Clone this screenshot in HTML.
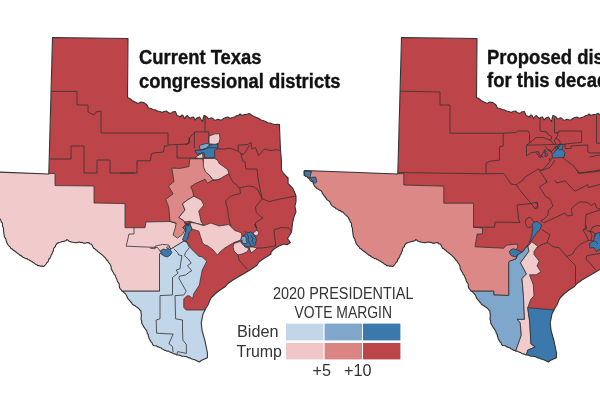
<!DOCTYPE html>
<html><head><meta charset="utf-8"><style>
html,body{margin:0;padding:0;background:#fff;width:600px;height:400px;overflow:hidden}
svg{position:absolute;left:0;top:0;will-change:transform}
.t{position:absolute;font-family:"Liberation Sans",sans-serif;font-weight:bold;color:#111;white-space:nowrap}
</style></head><body>
<svg width="600" height="400" viewBox="0 0 600 400">
<clipPath id="c0"><polygon points="52.5,37.5 128.0,38.5 127.5,97.5 130.5,99.0 132.0,100.5 135.0,102.0 138.0,103.5 141.0,102.0 144.0,102.6 147.0,105.0 148.5,108.0 151.0,108.5 153.0,109.5 155.0,109.8 157.5,111.0 160.0,111.5 162.0,112.5 164.0,111.5 166.5,111.0 168.5,112.8 171.0,113.4 173.0,111.8 175.5,111.6 177.0,115.5 178.5,116.0 180.0,117.0 182.0,115.0 183.0,115.5 184.5,118.5 186.0,116.5 187.5,115.5 189.0,117.5 190.5,118.5 192.0,117.2 193.5,117.0 195.0,120.0 197.0,118.0 199.5,117.0 201.0,119.5 202.5,121.5 203.2,118.0 204.0,115.5 205.5,116.0 207.0,117.0 208.5,118.8 210.0,118.5 211.5,117.8 213.0,118.5 214.5,120.2 216.0,120.0 218.0,119.2 220.5,120.0 222.0,119.8 223.5,118.5 226.0,117.5 228.0,117.0 230.0,118.2 232.5,117.6 235.0,116.8 237.0,115.5 238.5,115.2 240.0,114.0 242.0,115.5 244.5,114.6 247.0,114.2 249.0,113.4 250.5,114.2 252.0,115.5 254.0,116.5 256.5,117.6 258.5,118.2 261.0,120.0 263.0,120.5 265.5,121.5 268.0,122.8 270.0,123.0 272.0,123.8 274.5,124.5 277.0,124.2 279.4,124.5 280.5,150.0 281.4,160.0 281.4,170.0 283.0,172.5 284.8,174.6 286.5,176.5 288.1,178.0 288.1,183.6 290.5,186.0 292.6,188.1 294.5,192.0 296.0,196.0 296.0,201.6 294.9,206.1 296.0,211.8 293.8,217.4 292.6,223.0 292.0,228.0 291.5,232.0 289.5,235.5 287.5,238.5 290.4,242.5 287.0,244.8 284.0,244.0 279.0,246.0 274.0,249.0 271.0,252.0 271.0,254.0 268.0,256.0 263.0,259.0 259.0,262.0 257.0,265.0 253.0,268.0 250.0,270.0 245.0,273.0 238.0,277.0 233.0,280.0 228.0,283.5 225.5,286.5 220.0,290.0 215.0,294.0 211.0,298.0 209.5,301.0 208.0,305.0 205.6,308.8 203.0,314.0 201.2,322.8 202.1,330.6 204.8,340.2 207.4,352.5 207.4,357.8 201.2,360.4 199.5,362.0 194.2,359.5 192.8,359.2 191.3,358.8 190.1,357.8 188.5,357.9 187.2,356.9 185.5,356.5 183.7,356.3 181.9,356.2 180.3,355.4 178.5,355.0 176.9,355.0 175.7,354.1 174.1,353.9 172.7,353.4 171.5,352.5 170.0,352.1 168.6,351.1 166.9,351.3 165.5,350.4 164.2,350.2 163.2,349.3 162.0,349.0 161.1,347.9 159.7,347.5 158.5,346.9 157.3,346.6 156.3,345.7 155.0,345.8 153.4,345.5 152.4,344.2 152.1,342.8 150.9,341.9 150.5,340.5 149.6,339.6 149.1,338.5 148.9,337.2 148.3,336.0 148.3,334.5 147.2,333.4 147.1,332.0 146.5,330.8 145.8,329.6 145.0,328.5 144.1,327.4 143.5,326.1 142.8,325.0 142.0,323.8 141.6,322.4 141.8,321.0 141.1,319.6 141.0,318.0 141.3,316.3 141.2,314.5 141.0,312.8 141.0,311.0 140.0,310.2 139.2,309.2 138.4,308.3 137.5,307.5 136.2,306.7 135.0,305.8 133.5,305.1 132.2,304.0 131.6,302.7 130.5,301.8 129.8,300.6 128.8,299.6 127.6,298.2 127.0,296.5 126.2,295.0 125.2,293.5 124.1,292.6 123.2,291.4 121.8,290.9 121.1,289.6 120.0,288.6 119.4,287.1 119.2,285.5 119.2,283.8 118.2,282.5 117.2,281.2 117.0,279.5 116.2,278.0 115.6,276.4 115.2,275.2 114.1,274.5 113.8,273.2 112.9,271.7 112.1,270.2 111.2,269.0 111.2,267.5 111.0,266.2 110.4,265.0 109.9,263.8 109.0,262.8 108.2,261.8 107.8,260.6 106.6,260.0 106.0,258.9 105.1,257.6 103.8,256.5 102.8,255.4 101.6,254.5 100.6,253.6 99.5,252.8 98.3,251.9 97.2,251.0 96.6,250.1 95.5,249.8 94.9,248.7 93.8,248.4 92.9,247.0 92.2,245.5 91.8,244.6 91.1,244.0 89.9,243.9 89.2,242.9 87.6,242.6 86.5,242.7 85.5,243.2 84.4,243.0 83.2,243.1 82.0,242.3 80.5,242.5 79.3,242.0 78.0,242.2 76.8,242.7 75.5,242.6 74.1,242.5 72.8,242.2 71.0,241.9 70.2,241.5 69.2,241.4 68.0,240.2 66.6,239.6 66.2,240.6 65.2,240.8 64.0,241.4 63.0,241.5 62.0,241.6 60.5,242.2 58.8,242.5 58.0,243.1 57.0,243.1 56.7,244.4 55.6,245.2 55.4,246.6 54.4,247.5 53.7,248.5 53.5,249.8 53.4,251.0 52.6,251.9 52.2,253.6 51.2,255.0 50.7,256.5 50.0,258.0 48.9,259.0 48.5,260.5 48.1,261.8 47.0,262.5 46.3,263.7 45.5,264.8 44.6,265.6 43.8,266.5 42.2,265.9 40.5,266.2 39.1,265.6 37.6,265.6 36.8,264.5 35.4,264.2 34.5,263.2 32.9,262.3 31.5,261.2 30.3,260.8 29.3,259.8 28.0,259.6 27.1,258.5 25.5,258.7 24.5,257.8 23.1,257.3 22.0,256.5 21.0,255.5 19.7,255.1 18.7,254.1 17.5,253.4 16.3,252.2 15.0,251.2 13.5,250.3 12.2,249.0 10.7,248.3 10.0,246.8 8.9,245.8 7.9,244.6 7.1,243.3 6.7,241.8 6.0,240.5 5.9,239.1 5.1,237.9 4.4,236.8 4.2,235.2 3.9,233.6 3.8,232.1 3.5,230.6 3.5,229.0 3.2,227.5 2.4,226.1 2.6,224.5 2.3,222.9 1.2,221.8 0.9,220.4 0.0,219.2 -0.6,217.7 -1.6,216.5 -2.8,215.4 -4.0,214.3 -5.2,213.1 -6.2,211.9 -7.8,211.6 -8.8,210.4 -10.4,210.3 -11.5,209.2 -13.0,208.8 -14.0,207.5 -15.5,206.9 -16.8,205.8 -18.0,204.5 -18.7,202.9 -19.4,201.4 -20.8,200.6 -22.0,199.6 -22.9,198.4 -23.8,197.0 -24.9,196.0 -25.5,194.6 -26.6,193.5 -27.0,192.0 -28.1,190.7 -29.6,189.9 -31.0,189.0 -32.2,188.6 -33.0,187.5 -34.2,186.4 -35.0,185.0 -35.7,183.6 -36.0,182.0 -37.1,181.5 -38.2,181.0 -39.0,180.0 -39.7,178.7 -41.0,178.0 -41.7,176.8 -43.0,176.5 -44.0,175.8 -45.0,175.0 -44.9,173.5 -45.1,171.9 -44.5,170.5 48.8,174.0"/></clipPath>
<g clip-path="url(#c0)">
<polygon points="52.5,37.5 128.0,38.5 127.5,97.5 130.5,99.0 132.0,100.5 135.0,102.0 138.0,103.5 141.0,102.0 144.0,102.6 147.0,105.0 148.5,108.0 151.0,108.5 153.0,109.5 155.0,109.8 157.5,111.0 160.0,111.5 162.0,112.5 164.0,111.5 166.5,111.0 168.5,112.8 171.0,113.4 173.0,111.8 175.5,111.6 177.0,115.5 178.5,116.0 180.0,117.0 182.0,115.0 183.0,115.5 184.5,118.5 186.0,116.5 187.5,115.5 189.0,117.5 190.5,118.5 192.0,117.2 193.5,117.0 195.0,120.0 197.0,118.0 199.5,117.0 201.0,119.5 202.5,121.5 203.2,118.0 204.0,115.5 205.5,116.0 207.0,117.0 208.5,118.8 210.0,118.5 211.5,117.8 213.0,118.5 214.5,120.2 216.0,120.0 218.0,119.2 220.5,120.0 222.0,119.8 223.5,118.5 226.0,117.5 228.0,117.0 230.0,118.2 232.5,117.6 235.0,116.8 237.0,115.5 238.5,115.2 240.0,114.0 242.0,115.5 244.5,114.6 247.0,114.2 249.0,113.4 250.5,114.2 252.0,115.5 254.0,116.5 256.5,117.6 258.5,118.2 261.0,120.0 263.0,120.5 265.5,121.5 268.0,122.8 270.0,123.0 272.0,123.8 274.5,124.5 277.0,124.2 279.4,124.5 280.5,150.0 281.4,160.0 281.4,170.0 283.0,172.5 284.8,174.6 286.5,176.5 288.1,178.0 288.1,183.6 290.5,186.0 292.6,188.1 294.5,192.0 296.0,196.0 296.0,201.6 294.9,206.1 296.0,211.8 293.8,217.4 292.6,223.0 292.0,228.0 291.5,232.0 289.5,235.5 287.5,238.5 290.4,242.5 287.0,244.8 284.0,244.0 279.0,246.0 274.0,249.0 271.0,252.0 271.0,254.0 268.0,256.0 263.0,259.0 259.0,262.0 257.0,265.0 253.0,268.0 250.0,270.0 245.0,273.0 238.0,277.0 233.0,280.0 228.0,283.5 225.5,286.5 220.0,290.0 215.0,294.0 211.0,298.0 209.5,301.0 208.0,305.0 205.6,308.8 203.0,314.0 201.2,322.8 202.1,330.6 204.8,340.2 207.4,352.5 207.4,357.8 201.2,360.4 199.5,362.0 194.2,359.5 192.8,359.2 191.3,358.8 190.1,357.8 188.5,357.9 187.2,356.9 185.5,356.5 183.7,356.3 181.9,356.2 180.3,355.4 178.5,355.0 176.9,355.0 175.7,354.1 174.1,353.9 172.7,353.4 171.5,352.5 170.0,352.1 168.6,351.1 166.9,351.3 165.5,350.4 164.2,350.2 163.2,349.3 162.0,349.0 161.1,347.9 159.7,347.5 158.5,346.9 157.3,346.6 156.3,345.7 155.0,345.8 153.4,345.5 152.4,344.2 152.1,342.8 150.9,341.9 150.5,340.5 149.6,339.6 149.1,338.5 148.9,337.2 148.3,336.0 148.3,334.5 147.2,333.4 147.1,332.0 146.5,330.8 145.8,329.6 145.0,328.5 144.1,327.4 143.5,326.1 142.8,325.0 142.0,323.8 141.6,322.4 141.8,321.0 141.1,319.6 141.0,318.0 141.3,316.3 141.2,314.5 141.0,312.8 141.0,311.0 140.0,310.2 139.2,309.2 138.4,308.3 137.5,307.5 136.2,306.7 135.0,305.8 133.5,305.1 132.2,304.0 131.6,302.7 130.5,301.8 129.8,300.6 128.8,299.6 127.6,298.2 127.0,296.5 126.2,295.0 125.2,293.5 124.1,292.6 123.2,291.4 121.8,290.9 121.1,289.6 120.0,288.6 119.4,287.1 119.2,285.5 119.2,283.8 118.2,282.5 117.2,281.2 117.0,279.5 116.2,278.0 115.6,276.4 115.2,275.2 114.1,274.5 113.8,273.2 112.9,271.7 112.1,270.2 111.2,269.0 111.2,267.5 111.0,266.2 110.4,265.0 109.9,263.8 109.0,262.8 108.2,261.8 107.8,260.6 106.6,260.0 106.0,258.9 105.1,257.6 103.8,256.5 102.8,255.4 101.6,254.5 100.6,253.6 99.5,252.8 98.3,251.9 97.2,251.0 96.6,250.1 95.5,249.8 94.9,248.7 93.8,248.4 92.9,247.0 92.2,245.5 91.8,244.6 91.1,244.0 89.9,243.9 89.2,242.9 87.6,242.6 86.5,242.7 85.5,243.2 84.4,243.0 83.2,243.1 82.0,242.3 80.5,242.5 79.3,242.0 78.0,242.2 76.8,242.7 75.5,242.6 74.1,242.5 72.8,242.2 71.0,241.9 70.2,241.5 69.2,241.4 68.0,240.2 66.6,239.6 66.2,240.6 65.2,240.8 64.0,241.4 63.0,241.5 62.0,241.6 60.5,242.2 58.8,242.5 58.0,243.1 57.0,243.1 56.7,244.4 55.6,245.2 55.4,246.6 54.4,247.5 53.7,248.5 53.5,249.8 53.4,251.0 52.6,251.9 52.2,253.6 51.2,255.0 50.7,256.5 50.0,258.0 48.9,259.0 48.5,260.5 48.1,261.8 47.0,262.5 46.3,263.7 45.5,264.8 44.6,265.6 43.8,266.5 42.2,265.9 40.5,266.2 39.1,265.6 37.6,265.6 36.8,264.5 35.4,264.2 34.5,263.2 32.9,262.3 31.5,261.2 30.3,260.8 29.3,259.8 28.0,259.6 27.1,258.5 25.5,258.7 24.5,257.8 23.1,257.3 22.0,256.5 21.0,255.5 19.7,255.1 18.7,254.1 17.5,253.4 16.3,252.2 15.0,251.2 13.5,250.3 12.2,249.0 10.7,248.3 10.0,246.8 8.9,245.8 7.9,244.6 7.1,243.3 6.7,241.8 6.0,240.5 5.9,239.1 5.1,237.9 4.4,236.8 4.2,235.2 3.9,233.6 3.8,232.1 3.5,230.6 3.5,229.0 3.2,227.5 2.4,226.1 2.6,224.5 2.3,222.9 1.2,221.8 0.9,220.4 0.0,219.2 -0.6,217.7 -1.6,216.5 -2.8,215.4 -4.0,214.3 -5.2,213.1 -6.2,211.9 -7.8,211.6 -8.8,210.4 -10.4,210.3 -11.5,209.2 -13.0,208.8 -14.0,207.5 -15.5,206.9 -16.8,205.8 -18.0,204.5 -18.7,202.9 -19.4,201.4 -20.8,200.6 -22.0,199.6 -22.9,198.4 -23.8,197.0 -24.9,196.0 -25.5,194.6 -26.6,193.5 -27.0,192.0 -28.1,190.7 -29.6,189.9 -31.0,189.0 -32.2,188.6 -33.0,187.5 -34.2,186.4 -35.0,185.0 -35.7,183.6 -36.0,182.0 -37.1,181.5 -38.2,181.0 -39.0,180.0 -39.7,178.7 -41.0,178.0 -41.7,176.8 -43.0,176.5 -44.0,175.8 -45.0,175.0 -44.9,173.5 -45.1,171.9 -44.5,170.5 48.8,174.0" fill="#bd4449" stroke="none"/>
<polygon points="-60.0,160.0 48.4,160.0 48.4,173.5 55.0,173.5 55.0,185.6 94.0,186.0 94.0,203.0 125.0,203.6 125.0,227.7 145.0,227.7 146.0,222.0 170.0,221.5 175.0,223.1 185.0,227.0 186.0,233.0 184.0,241.0 171.0,249.0 160.0,253.8 159.5,291.2 100.0,291.2 100.0,400.0 -60.0,400.0" fill="#f1cbcc" stroke="#333" stroke-width="0.8" stroke-linejoin="round"/>
<polygon points="100.0,291.2 159.5,291.2 159.5,253.8 171.0,249.0 184.0,241.0 187.5,242.5 191.2,248.8 198.8,256.2 202.0,256.8 206.8,261.2 202.2,270.2 200.0,281.5 199.4,285.0 193.8,293.8 192.5,298.8 190.0,296.2 187.5,295.6 183.8,298.8 183.8,307.5 186.2,310.0 203.9,310.0 240.0,309.0 240.0,400.0 100.0,400.0" fill="#c2d6ea" stroke="#333" stroke-width="0.8" stroke-linejoin="round"/>
<polygon points="189.8,158.8 202.9,158.8 204.6,168.4 209.6,175.3 213.0,179.8 207.4,183.2 205.1,179.2 195.0,183.8 190.6,186.8 192.4,190.2 193.8,196.2 187.5,200.0 182.5,203.8 185.0,210.0 178.8,217.5 183.8,220.6 185.6,225.0 182.5,227.5 185.0,230.0 182.5,234.4 177.5,238.1 173.1,235.0 175.0,228.8 176.2,223.1 170.0,221.2 169.4,215.0 168.8,207.5 167.5,203.8 165.6,199.4 173.1,193.8 168.4,186.1 174.0,181.6 171.8,168.1 180.1,168.4 188.9,166.6" fill="#dc8886" stroke="#333" stroke-width="0.8" stroke-linejoin="round"/>
<polygon points="203.4,158.4 214.7,158.4 217.5,160.1 219.2,163.5 223.2,166.3 227.7,169.7 228.8,173.6 222.0,177.6 217.5,180.4 213.0,179.8 209.6,175.3 205.7,172.0 203.4,166.9" fill="#f1cbcc" stroke="#333" stroke-width="0.8" stroke-linejoin="round"/>
<polygon points="182.5,203.8 187.5,200.0 193.8,196.2 201.2,200.0 203.8,205.0 198.8,211.2 201.2,221.9 203.8,225.0 195.0,223.1 190.0,221.2 185.0,221.9 183.8,220.6 178.8,217.5 185.0,210.0" fill="#f1cbcc" stroke="#333" stroke-width="0.8" stroke-linejoin="round"/>
<polygon points="190.0,222.5 195.0,223.1 203.8,225.6 210.8,223.0 219.0,226.0 228.8,224.5 234.8,230.5 241.5,232.8 242.2,239.5 234.0,242.5 225.0,247.8 219.8,252.2 217.5,255.2 213.0,250.0 208.0,246.0 204.0,244.5 202.5,242.5 200.5,236.5 198.8,231.2 193.5,229.5 191.2,228.8 190.6,225.6" fill="#f1cbcc" stroke="#333" stroke-width="0.8" stroke-linejoin="round"/>
<polygon points="234.0,243.5 240.0,241.5 243.0,244.0 245.0,247.0 249.0,248.5 247.0,252.0 242.0,254.0 238.0,255.0 234.0,251.0 233.0,247.0" fill="#f1cbcc" stroke="#333" stroke-width="0.8" stroke-linejoin="round"/>
<polygon points="249.0,247.0 253.0,247.0 257.0,248.0 255.0,250.0 251.0,253.0 250.0,250.0" fill="#f1cbcc" stroke="#333" stroke-width="0.8" stroke-linejoin="round"/>
<polygon points="253.0,233.0 257.0,230.0 259.0,233.0 257.0,236.0 254.0,235.0" fill="#f1cbcc" stroke="#333" stroke-width="0.8" stroke-linejoin="round"/>
<polygon points="246.0,233.5 247.5,232.0 249.0,232.8 250.5,231.8 252.0,233.0 253.5,234.0 254.5,236.0 256.0,238.0 256.5,240.5 255.5,242.0 256.0,244.0 254.5,245.0 253.0,246.5 251.0,246.0 249.0,247.2 247.0,246.5 245.0,246.0 243.5,245.0 242.0,244.0 241.5,242.5 242.2,241.0 241.0,239.5 241.5,238.0 243.0,237.0 244.0,235.0" fill="#3b78ab" stroke="#333" stroke-width="0.8" stroke-linejoin="round"/>
<polygon points="241.5,236.8 244.5,236.2 246.5,238.0 246.0,240.5 247.5,243.0 244.0,243.8 242.0,242.2 242.2,240.5 241.0,239.5" fill="#7fa6cb" stroke="#333" stroke-width="0.8" stroke-linejoin="round"/>
<polygon points="186.2,225.0 188.5,224.2 190.6,225.6 191.9,228.8 190.2,231.5 188.8,233.8 188.2,236.5 187.5,238.8 185.6,241.2 182.5,240.0 183.2,237.5 184.4,235.0 185.2,232.5 186.2,230.0 185.5,227.5" fill="#3b78ab" stroke="#333" stroke-width="0.8" stroke-linejoin="round"/>
<polygon points="160.5,250.8 163.1,249.0 166.6,249.9 167.5,248.1 169.2,249.0 171.0,250.8 171.9,252.5 170.1,255.1 167.5,256.9 164.0,256.0 161.4,254.2" fill="#3b78ab" stroke="#333" stroke-width="0.8" stroke-linejoin="round"/>
<polygon points="199.4,145.6 205.0,143.8 208.8,143.1 209.4,146.9 205.0,149.4 200.0,150.0" fill="#7fa6cb" stroke="#333" stroke-width="0.8" stroke-linejoin="round"/>
<polygon points="209.4,145.0 215.0,144.4 218.0,143.8 217.5,148.8 214.4,150.6 215.0,157.5 205.0,158.1 203.8,152.5 196.9,154.4 195.0,150.6 200.0,150.0 205.0,149.4" fill="#3b78ab" stroke="#333" stroke-width="0.8" stroke-linejoin="round"/>
<polygon points="195.6,156.9 202.5,153.1 203.1,158.1 196.0,158.5" fill="#f1cbcc" stroke="#333" stroke-width="0.8" stroke-linejoin="round"/>
<polygon points="208.8,136.2 215.0,133.8 219.4,133.8 220.0,138.8 218.8,143.1 215.0,144.4 208.8,143.8" fill="#f1cbcc" stroke="#333" stroke-width="0.8" stroke-linejoin="round"/>
<polyline points="184.5,222.0 187.0,224.0 189.5,222.5 188.0,226.5 186.0,223.5" fill="none" stroke="#333" stroke-width="0.8" stroke-linejoin="round"/>
<polyline points="185.6,225.0 183.2,227.8 186.0,229.0" fill="none" stroke="#333" stroke-width="0.8" stroke-linejoin="round"/>
<polyline points="247.0,233.5 248.5,237.0 248.0,240.0 249.5,243.0 251.0,246.0" fill="none" stroke="#333" stroke-width="0.8" stroke-linejoin="round"/>
<polyline points="250.5,235.0 253.0,238.5 252.0,241.5 254.0,244.0" fill="none" stroke="#333" stroke-width="0.8" stroke-linejoin="round"/>
<polyline points="244.5,231.0 245.5,232.5" fill="none" stroke="#333" stroke-width="0.8" stroke-linejoin="round"/>
<polyline points="200.0,150.0 209.4,147.5 217.5,148.0" fill="none" stroke="#333" stroke-width="0.8" stroke-linejoin="round"/>
<polyline points="51.0,91.4 77.0,91.4 77.0,105.0 88.0,105.0 88.0,112.0 94.0,115.0 96.0,112.0 101.0,111.0 101.0,133.0 168.0,133.0 168.0,145.0 188.0,144.0 189.0,140.0 190.0,137.0 195.0,132.0" fill="none" stroke="#333" stroke-width="0.8" stroke-linejoin="round"/>
<polyline points="168.0,145.9 164.5,145.9 163.6,152.0 154.0,152.9 151.4,153.8 150.5,160.8 137.0,160.8 137.0,173.0 120.0,173.0" fill="none" stroke="#333" stroke-width="0.8" stroke-linejoin="round"/>
<polyline points="49.0,159.0 71.0,159.0 71.0,146.0 84.0,146.0 84.0,173.0 97.0,173.0 97.0,160.0 110.0,160.0 110.0,173.0 135.0,173.0" fill="none" stroke="#333" stroke-width="0.8" stroke-linejoin="round"/>
<polyline points="177.0,145.0 177.0,158.0 189.0,158.0 198.0,158.0" fill="none" stroke="#333" stroke-width="0.8" stroke-linejoin="round"/>
<polyline points="205.0,116.0 205.0,131.9" fill="none" stroke="#333" stroke-width="0.8" stroke-linejoin="round"/>
<polyline points="194.4,131.9 208.8,131.9 208.8,143.1" fill="none" stroke="#333" stroke-width="0.8" stroke-linejoin="round"/>
<polyline points="194.4,131.9 194.4,148.1" fill="none" stroke="#333" stroke-width="0.8" stroke-linejoin="round"/>
<polyline points="185.0,145.0 190.0,142.5 188.8,137.5" fill="none" stroke="#333" stroke-width="0.8" stroke-linejoin="round"/>
<polyline points="217.5,148.8 224.0,149.0 230.0,148.2 238.2,151.2 238.2,145.2 248.0,144.5 251.0,142.2 251.8,149.0 255.5,147.5 258.5,155.7 263.0,150.5 264.5,149.0 270.5,150.5 276.5,149.7 281.0,150.5" fill="none" stroke="#333" stroke-width="0.8" stroke-linejoin="round"/>
<polyline points="240.5,152.8 243.0,155.0 246.0,151.0 249.5,145.2" fill="none" stroke="#333" stroke-width="0.8" stroke-linejoin="round"/>
<polyline points="238.2,151.2 240.5,152.8 242.8,161.0 245.0,161.8 245.8,169.0 257.0,169.0 258.0,178.0 260.0,189.0 262.2,198.8 269.0,201.6 280.0,199.0 296.0,196.0" fill="none" stroke="#333" stroke-width="0.8" stroke-linejoin="round"/>
<polyline points="228.8,173.6 230.8,178.1 233.3,182.6 236.0,184.0 239.0,188.0 248.0,186.0 254.0,186.8 257.8,189.8 262.2,198.8" fill="none" stroke="#333" stroke-width="0.8" stroke-linejoin="round"/>
<polyline points="239.8,188.2 240.5,193.5 234.5,195.0 230.0,196.5 225.5,201.0 227.8,210.0 228.5,217.5 230.0,223.5 231.5,226.5" fill="none" stroke="#333" stroke-width="0.8" stroke-linejoin="round"/>
<polyline points="212.5,180.6 220.0,179.0" fill="none" stroke="#333" stroke-width="0.8" stroke-linejoin="round"/>
<polyline points="262.2,198.8 255.5,207.0 256.2,212.2 260.0,216.0 263.0,218.2 256.2,222.0 254.8,225.0 257.0,229.5" fill="none" stroke="#333" stroke-width="0.8" stroke-linejoin="round"/>
<polyline points="257.0,229.5 255.0,224.0 256.5,227.0" fill="none" stroke="#333" stroke-width="0.8" stroke-linejoin="round"/>
<polyline points="291.5,232.0 289.0,228.0 281.4,227.5 274.0,229.8 274.6,236.5 275.8,246.0" fill="none" stroke="#333" stroke-width="0.8" stroke-linejoin="round"/>
<polyline points="257.0,248.0 262.0,248.0 275.8,246.0" fill="none" stroke="#333" stroke-width="0.8" stroke-linejoin="round"/>
<polyline points="238.0,255.0 239.0,260.0 247.5,269.5" fill="none" stroke="#333" stroke-width="0.8" stroke-linejoin="round"/>
<polyline points="134.0,227.7 134.0,234.0 129.0,234.0 126.2,246.2 157.5,247.5 160.6,251.9" fill="none" stroke="#333" stroke-width="0.8" stroke-linejoin="round"/>
<polyline points="150.0,248.1 155.0,248.8 155.0,246.2 162.5,244.4 168.8,245.0 170.6,248.8" fill="none" stroke="#333" stroke-width="0.8" stroke-linejoin="round"/>
<polyline points="173.8,248.8 177.5,252.5 178.8,255.0 181.9,255.6 180.6,263.8 180.0,268.8 176.2,270.0 178.1,273.1 172.5,277.5 172.5,295.0 160.0,295.6 160.0,318.8 156.2,320.0 156.6,333.2 173.2,334.1 168.9,343.8 172.4,346.4 173.2,352.5" fill="none" stroke="#333" stroke-width="0.8" stroke-linejoin="round"/>
<polyline points="189.4,247.5 185.6,252.5 184.4,255.6 188.1,258.8 191.2,263.1 187.5,265.6 190.0,268.8 191.9,270.6 188.8,272.5 185.6,275.0 179.4,276.2 178.8,278.1 186.2,291.2 183.8,295.0 175.0,295.6 175.6,318.8 182.5,320.0 182.5,330.0 182.9,340.2 186.4,344.6 186.4,353.4 177.6,351.6 176.8,355.0" fill="none" stroke="#333" stroke-width="0.8" stroke-linejoin="round"/>
<polyline points="166.0,248.0 168.0,246.5 171.0,249.0" fill="none" stroke="#333" stroke-width="0.8" stroke-linejoin="round"/>
<polyline points="186.2,241.2 189.4,247.5" fill="none" stroke="#333" stroke-width="0.8" stroke-linejoin="round"/>
</g>
<polygon points="52.5,37.5 128.0,38.5 127.5,97.5 130.5,99.0 132.0,100.5 135.0,102.0 138.0,103.5 141.0,102.0 144.0,102.6 147.0,105.0 148.5,108.0 151.0,108.5 153.0,109.5 155.0,109.8 157.5,111.0 160.0,111.5 162.0,112.5 164.0,111.5 166.5,111.0 168.5,112.8 171.0,113.4 173.0,111.8 175.5,111.6 177.0,115.5 178.5,116.0 180.0,117.0 182.0,115.0 183.0,115.5 184.5,118.5 186.0,116.5 187.5,115.5 189.0,117.5 190.5,118.5 192.0,117.2 193.5,117.0 195.0,120.0 197.0,118.0 199.5,117.0 201.0,119.5 202.5,121.5 203.2,118.0 204.0,115.5 205.5,116.0 207.0,117.0 208.5,118.8 210.0,118.5 211.5,117.8 213.0,118.5 214.5,120.2 216.0,120.0 218.0,119.2 220.5,120.0 222.0,119.8 223.5,118.5 226.0,117.5 228.0,117.0 230.0,118.2 232.5,117.6 235.0,116.8 237.0,115.5 238.5,115.2 240.0,114.0 242.0,115.5 244.5,114.6 247.0,114.2 249.0,113.4 250.5,114.2 252.0,115.5 254.0,116.5 256.5,117.6 258.5,118.2 261.0,120.0 263.0,120.5 265.5,121.5 268.0,122.8 270.0,123.0 272.0,123.8 274.5,124.5 277.0,124.2 279.4,124.5 280.5,150.0 281.4,160.0 281.4,170.0 283.0,172.5 284.8,174.6 286.5,176.5 288.1,178.0 288.1,183.6 290.5,186.0 292.6,188.1 294.5,192.0 296.0,196.0 296.0,201.6 294.9,206.1 296.0,211.8 293.8,217.4 292.6,223.0 292.0,228.0 291.5,232.0 289.5,235.5 287.5,238.5 290.4,242.5 287.0,244.8 284.0,244.0 279.0,246.0 274.0,249.0 271.0,252.0 271.0,254.0 268.0,256.0 263.0,259.0 259.0,262.0 257.0,265.0 253.0,268.0 250.0,270.0 245.0,273.0 238.0,277.0 233.0,280.0 228.0,283.5 225.5,286.5 220.0,290.0 215.0,294.0 211.0,298.0 209.5,301.0 208.0,305.0 205.6,308.8 203.0,314.0 201.2,322.8 202.1,330.6 204.8,340.2 207.4,352.5 207.4,357.8 201.2,360.4 199.5,362.0 194.2,359.5 192.8,359.2 191.3,358.8 190.1,357.8 188.5,357.9 187.2,356.9 185.5,356.5 183.7,356.3 181.9,356.2 180.3,355.4 178.5,355.0 176.9,355.0 175.7,354.1 174.1,353.9 172.7,353.4 171.5,352.5 170.0,352.1 168.6,351.1 166.9,351.3 165.5,350.4 164.2,350.2 163.2,349.3 162.0,349.0 161.1,347.9 159.7,347.5 158.5,346.9 157.3,346.6 156.3,345.7 155.0,345.8 153.4,345.5 152.4,344.2 152.1,342.8 150.9,341.9 150.5,340.5 149.6,339.6 149.1,338.5 148.9,337.2 148.3,336.0 148.3,334.5 147.2,333.4 147.1,332.0 146.5,330.8 145.8,329.6 145.0,328.5 144.1,327.4 143.5,326.1 142.8,325.0 142.0,323.8 141.6,322.4 141.8,321.0 141.1,319.6 141.0,318.0 141.3,316.3 141.2,314.5 141.0,312.8 141.0,311.0 140.0,310.2 139.2,309.2 138.4,308.3 137.5,307.5 136.2,306.7 135.0,305.8 133.5,305.1 132.2,304.0 131.6,302.7 130.5,301.8 129.8,300.6 128.8,299.6 127.6,298.2 127.0,296.5 126.2,295.0 125.2,293.5 124.1,292.6 123.2,291.4 121.8,290.9 121.1,289.6 120.0,288.6 119.4,287.1 119.2,285.5 119.2,283.8 118.2,282.5 117.2,281.2 117.0,279.5 116.2,278.0 115.6,276.4 115.2,275.2 114.1,274.5 113.8,273.2 112.9,271.7 112.1,270.2 111.2,269.0 111.2,267.5 111.0,266.2 110.4,265.0 109.9,263.8 109.0,262.8 108.2,261.8 107.8,260.6 106.6,260.0 106.0,258.9 105.1,257.6 103.8,256.5 102.8,255.4 101.6,254.5 100.6,253.6 99.5,252.8 98.3,251.9 97.2,251.0 96.6,250.1 95.5,249.8 94.9,248.7 93.8,248.4 92.9,247.0 92.2,245.5 91.8,244.6 91.1,244.0 89.9,243.9 89.2,242.9 87.6,242.6 86.5,242.7 85.5,243.2 84.4,243.0 83.2,243.1 82.0,242.3 80.5,242.5 79.3,242.0 78.0,242.2 76.8,242.7 75.5,242.6 74.1,242.5 72.8,242.2 71.0,241.9 70.2,241.5 69.2,241.4 68.0,240.2 66.6,239.6 66.2,240.6 65.2,240.8 64.0,241.4 63.0,241.5 62.0,241.6 60.5,242.2 58.8,242.5 58.0,243.1 57.0,243.1 56.7,244.4 55.6,245.2 55.4,246.6 54.4,247.5 53.7,248.5 53.5,249.8 53.4,251.0 52.6,251.9 52.2,253.6 51.2,255.0 50.7,256.5 50.0,258.0 48.9,259.0 48.5,260.5 48.1,261.8 47.0,262.5 46.3,263.7 45.5,264.8 44.6,265.6 43.8,266.5 42.2,265.9 40.5,266.2 39.1,265.6 37.6,265.6 36.8,264.5 35.4,264.2 34.5,263.2 32.9,262.3 31.5,261.2 30.3,260.8 29.3,259.8 28.0,259.6 27.1,258.5 25.5,258.7 24.5,257.8 23.1,257.3 22.0,256.5 21.0,255.5 19.7,255.1 18.7,254.1 17.5,253.4 16.3,252.2 15.0,251.2 13.5,250.3 12.2,249.0 10.7,248.3 10.0,246.8 8.9,245.8 7.9,244.6 7.1,243.3 6.7,241.8 6.0,240.5 5.9,239.1 5.1,237.9 4.4,236.8 4.2,235.2 3.9,233.6 3.8,232.1 3.5,230.6 3.5,229.0 3.2,227.5 2.4,226.1 2.6,224.5 2.3,222.9 1.2,221.8 0.9,220.4 0.0,219.2 -0.6,217.7 -1.6,216.5 -2.8,215.4 -4.0,214.3 -5.2,213.1 -6.2,211.9 -7.8,211.6 -8.8,210.4 -10.4,210.3 -11.5,209.2 -13.0,208.8 -14.0,207.5 -15.5,206.9 -16.8,205.8 -18.0,204.5 -18.7,202.9 -19.4,201.4 -20.8,200.6 -22.0,199.6 -22.9,198.4 -23.8,197.0 -24.9,196.0 -25.5,194.6 -26.6,193.5 -27.0,192.0 -28.1,190.7 -29.6,189.9 -31.0,189.0 -32.2,188.6 -33.0,187.5 -34.2,186.4 -35.0,185.0 -35.7,183.6 -36.0,182.0 -37.1,181.5 -38.2,181.0 -39.0,180.0 -39.7,178.7 -41.0,178.0 -41.7,176.8 -43.0,176.5 -44.0,175.8 -45.0,175.0 -44.9,173.5 -45.1,171.9 -44.5,170.5 48.8,174.0" fill="none" stroke="#333" stroke-width="1.1" stroke-linejoin="round"/>
<clipPath id="c1"><polygon points="401.5,37.5 477.0,38.5 476.5,97.5 479.5,99.0 481.0,100.5 484.0,102.0 487.0,103.5 490.0,102.0 493.0,102.6 496.0,105.0 497.5,108.0 500.0,108.5 502.0,109.5 504.0,109.8 506.5,111.0 509.0,111.5 511.0,112.5 513.0,111.5 515.5,111.0 517.5,112.8 520.0,113.4 522.0,111.8 524.5,111.6 526.0,115.5 527.5,116.0 529.0,117.0 531.0,115.0 532.0,115.5 533.5,118.5 535.0,116.5 536.5,115.5 538.0,117.5 539.5,118.5 541.0,117.2 542.5,117.0 544.0,120.0 546.0,118.0 548.5,117.0 550.0,119.5 551.5,121.5 552.2,118.0 553.0,115.5 554.5,116.0 556.0,117.0 557.5,118.8 559.0,118.5 560.5,117.8 562.0,118.5 563.5,120.2 565.0,120.0 567.0,119.2 569.5,120.0 571.0,119.8 572.5,118.5 575.0,117.5 577.0,117.0 579.0,118.2 581.5,117.6 584.0,116.8 586.0,115.5 587.5,115.2 589.0,114.0 591.0,115.5 593.5,114.6 596.0,114.2 598.0,113.4 599.5,114.2 601.0,115.5 603.0,116.5 605.5,117.6 607.5,118.2 610.0,120.0 612.0,120.5 614.5,121.5 617.0,122.8 619.0,123.0 621.0,123.8 623.5,124.5 626.0,124.2 628.4,124.5 629.5,150.0 630.4,160.0 630.4,170.0 632.0,172.5 633.8,174.6 635.5,176.5 637.1,178.0 637.1,183.6 639.5,186.0 641.6,188.1 643.5,192.0 645.0,196.0 645.0,201.6 643.9,206.1 645.0,211.8 642.8,217.4 641.6,223.0 641.0,228.0 640.5,232.0 638.5,235.5 636.5,238.5 639.4,242.5 636.0,244.8 633.0,244.0 628.0,246.0 623.0,249.0 620.0,252.0 620.0,254.0 617.0,256.0 612.0,259.0 608.0,262.0 606.0,265.0 602.0,268.0 599.0,270.0 594.0,273.0 587.0,277.0 582.0,280.0 577.0,283.5 574.5,286.5 569.0,290.0 564.0,294.0 560.0,298.0 558.5,301.0 557.0,305.0 554.6,308.8 552.0,314.0 550.2,322.8 551.1,330.6 553.8,340.2 556.4,352.5 556.4,357.8 550.2,360.4 548.5,362.0 543.2,359.5 541.8,359.2 540.3,358.8 539.1,357.8 537.5,357.9 536.2,356.9 534.5,356.5 532.7,356.3 530.9,356.2 529.3,355.4 527.5,355.0 525.9,355.0 524.7,354.1 523.1,353.9 521.7,353.4 520.5,352.5 519.0,352.1 517.6,351.1 515.9,351.3 514.5,350.4 513.2,350.2 512.2,349.3 511.0,349.0 510.1,347.9 508.7,347.5 507.5,346.9 506.3,346.6 505.3,345.7 504.0,345.8 502.4,345.5 501.4,344.2 501.1,342.8 499.9,341.9 499.5,340.5 498.6,339.6 498.1,338.5 497.9,337.2 497.3,336.0 497.3,334.5 496.2,333.4 496.1,332.0 495.5,330.8 494.8,329.6 494.0,328.5 493.1,327.4 492.5,326.1 491.8,325.0 491.0,323.8 490.6,322.4 490.8,321.0 490.1,319.6 490.0,318.0 490.3,316.3 490.2,314.5 490.0,312.8 490.0,311.0 489.0,310.2 488.2,309.2 487.4,308.3 486.5,307.5 485.2,306.7 484.0,305.8 482.5,305.1 481.2,304.0 480.6,302.7 479.5,301.8 478.8,300.6 477.8,299.6 476.6,298.2 476.0,296.5 475.2,295.0 474.2,293.5 473.1,292.6 472.2,291.4 470.8,290.9 470.1,289.6 469.0,288.6 468.4,287.1 468.2,285.5 468.2,283.8 467.2,282.5 466.2,281.2 466.0,279.5 465.2,278.0 464.6,276.4 464.2,275.2 463.1,274.5 462.8,273.2 461.9,271.7 461.1,270.2 460.2,269.0 460.2,267.5 460.0,266.2 459.4,265.0 458.9,263.8 458.0,262.8 457.2,261.8 456.8,260.6 455.6,260.0 455.0,258.9 454.1,257.6 452.8,256.5 451.8,255.4 450.6,254.5 449.6,253.6 448.5,252.8 447.3,251.9 446.2,251.0 445.6,250.1 444.5,249.8 443.9,248.7 442.8,248.4 441.9,247.0 441.2,245.5 440.8,244.6 440.1,244.0 438.9,243.9 438.2,242.9 436.6,242.6 435.5,242.7 434.5,243.2 433.4,243.0 432.2,243.1 431.0,242.3 429.5,242.5 428.3,242.0 427.0,242.2 425.8,242.7 424.5,242.6 423.1,242.5 421.8,242.2 420.0,241.9 419.2,241.5 418.2,241.4 417.0,240.2 415.6,239.6 415.2,240.6 414.2,240.8 413.0,241.4 412.0,241.5 411.0,241.6 409.5,242.2 407.8,242.5 407.0,243.1 406.0,243.1 405.7,244.4 404.6,245.2 404.4,246.6 403.4,247.5 402.7,248.5 402.5,249.8 402.4,251.0 401.6,251.9 401.2,253.6 400.2,255.0 399.7,256.5 399.0,258.0 397.9,259.0 397.5,260.5 397.1,261.8 396.0,262.5 395.3,263.7 394.5,264.8 393.6,265.6 392.8,266.5 391.2,265.9 389.5,266.2 388.1,265.6 386.6,265.6 385.8,264.5 384.4,264.2 383.5,263.2 381.9,262.3 380.5,261.2 379.3,260.8 378.3,259.8 377.0,259.6 376.1,258.5 374.5,258.7 373.5,257.8 372.1,257.3 371.0,256.5 370.0,255.5 368.7,255.1 367.7,254.1 366.5,253.4 365.3,252.2 364.0,251.2 362.5,250.3 361.2,249.0 359.7,248.3 359.0,246.8 357.9,245.8 356.9,244.6 356.1,243.3 355.7,241.8 355.0,240.5 354.9,239.1 354.1,237.9 353.4,236.8 353.2,235.2 352.9,233.6 352.8,232.1 352.5,230.6 352.5,229.0 352.2,227.5 351.4,226.1 351.6,224.5 351.3,222.9 350.2,221.8 349.9,220.4 349.0,219.2 348.4,217.7 347.4,216.5 346.2,215.4 345.0,214.3 343.8,213.1 342.8,211.9 341.2,211.6 340.2,210.4 338.6,210.3 337.5,209.2 336.0,208.8 335.0,207.5 333.5,206.9 332.2,205.8 331.0,204.5 330.3,202.9 329.6,201.4 328.2,200.6 327.0,199.6 326.1,198.4 325.2,197.0 324.1,196.0 323.5,194.6 322.4,193.5 322.0,192.0 320.9,190.7 319.4,189.9 318.0,189.0 316.8,188.6 316.0,187.5 314.8,186.4 314.0,185.0 313.3,183.6 313.0,182.0 311.9,181.5 310.8,181.0 310.0,180.0 309.3,178.7 308.0,178.0 307.3,176.8 306.0,176.5 305.0,175.8 304.0,175.0 304.1,173.5 303.9,171.9 304.5,170.5 397.8,174.0"/></clipPath>
<g clip-path="url(#c1)">
<polygon points="401.5,37.5 477.0,38.5 476.5,97.5 479.5,99.0 481.0,100.5 484.0,102.0 487.0,103.5 490.0,102.0 493.0,102.6 496.0,105.0 497.5,108.0 500.0,108.5 502.0,109.5 504.0,109.8 506.5,111.0 509.0,111.5 511.0,112.5 513.0,111.5 515.5,111.0 517.5,112.8 520.0,113.4 522.0,111.8 524.5,111.6 526.0,115.5 527.5,116.0 529.0,117.0 531.0,115.0 532.0,115.5 533.5,118.5 535.0,116.5 536.5,115.5 538.0,117.5 539.5,118.5 541.0,117.2 542.5,117.0 544.0,120.0 546.0,118.0 548.5,117.0 550.0,119.5 551.5,121.5 552.2,118.0 553.0,115.5 554.5,116.0 556.0,117.0 557.5,118.8 559.0,118.5 560.5,117.8 562.0,118.5 563.5,120.2 565.0,120.0 567.0,119.2 569.5,120.0 571.0,119.8 572.5,118.5 575.0,117.5 577.0,117.0 579.0,118.2 581.5,117.6 584.0,116.8 586.0,115.5 587.5,115.2 589.0,114.0 591.0,115.5 593.5,114.6 596.0,114.2 598.0,113.4 599.5,114.2 601.0,115.5 603.0,116.5 605.5,117.6 607.5,118.2 610.0,120.0 612.0,120.5 614.5,121.5 617.0,122.8 619.0,123.0 621.0,123.8 623.5,124.5 626.0,124.2 628.4,124.5 629.5,150.0 630.4,160.0 630.4,170.0 632.0,172.5 633.8,174.6 635.5,176.5 637.1,178.0 637.1,183.6 639.5,186.0 641.6,188.1 643.5,192.0 645.0,196.0 645.0,201.6 643.9,206.1 645.0,211.8 642.8,217.4 641.6,223.0 641.0,228.0 640.5,232.0 638.5,235.5 636.5,238.5 639.4,242.5 636.0,244.8 633.0,244.0 628.0,246.0 623.0,249.0 620.0,252.0 620.0,254.0 617.0,256.0 612.0,259.0 608.0,262.0 606.0,265.0 602.0,268.0 599.0,270.0 594.0,273.0 587.0,277.0 582.0,280.0 577.0,283.5 574.5,286.5 569.0,290.0 564.0,294.0 560.0,298.0 558.5,301.0 557.0,305.0 554.6,308.8 552.0,314.0 550.2,322.8 551.1,330.6 553.8,340.2 556.4,352.5 556.4,357.8 550.2,360.4 548.5,362.0 543.2,359.5 541.8,359.2 540.3,358.8 539.1,357.8 537.5,357.9 536.2,356.9 534.5,356.5 532.7,356.3 530.9,356.2 529.3,355.4 527.5,355.0 525.9,355.0 524.7,354.1 523.1,353.9 521.7,353.4 520.5,352.5 519.0,352.1 517.6,351.1 515.9,351.3 514.5,350.4 513.2,350.2 512.2,349.3 511.0,349.0 510.1,347.9 508.7,347.5 507.5,346.9 506.3,346.6 505.3,345.7 504.0,345.8 502.4,345.5 501.4,344.2 501.1,342.8 499.9,341.9 499.5,340.5 498.6,339.6 498.1,338.5 497.9,337.2 497.3,336.0 497.3,334.5 496.2,333.4 496.1,332.0 495.5,330.8 494.8,329.6 494.0,328.5 493.1,327.4 492.5,326.1 491.8,325.0 491.0,323.8 490.6,322.4 490.8,321.0 490.1,319.6 490.0,318.0 490.3,316.3 490.2,314.5 490.0,312.8 490.0,311.0 489.0,310.2 488.2,309.2 487.4,308.3 486.5,307.5 485.2,306.7 484.0,305.8 482.5,305.1 481.2,304.0 480.6,302.7 479.5,301.8 478.8,300.6 477.8,299.6 476.6,298.2 476.0,296.5 475.2,295.0 474.2,293.5 473.1,292.6 472.2,291.4 470.8,290.9 470.1,289.6 469.0,288.6 468.4,287.1 468.2,285.5 468.2,283.8 467.2,282.5 466.2,281.2 466.0,279.5 465.2,278.0 464.6,276.4 464.2,275.2 463.1,274.5 462.8,273.2 461.9,271.7 461.1,270.2 460.2,269.0 460.2,267.5 460.0,266.2 459.4,265.0 458.9,263.8 458.0,262.8 457.2,261.8 456.8,260.6 455.6,260.0 455.0,258.9 454.1,257.6 452.8,256.5 451.8,255.4 450.6,254.5 449.6,253.6 448.5,252.8 447.3,251.9 446.2,251.0 445.6,250.1 444.5,249.8 443.9,248.7 442.8,248.4 441.9,247.0 441.2,245.5 440.8,244.6 440.1,244.0 438.9,243.9 438.2,242.9 436.6,242.6 435.5,242.7 434.5,243.2 433.4,243.0 432.2,243.1 431.0,242.3 429.5,242.5 428.3,242.0 427.0,242.2 425.8,242.7 424.5,242.6 423.1,242.5 421.8,242.2 420.0,241.9 419.2,241.5 418.2,241.4 417.0,240.2 415.6,239.6 415.2,240.6 414.2,240.8 413.0,241.4 412.0,241.5 411.0,241.6 409.5,242.2 407.8,242.5 407.0,243.1 406.0,243.1 405.7,244.4 404.6,245.2 404.4,246.6 403.4,247.5 402.7,248.5 402.5,249.8 402.4,251.0 401.6,251.9 401.2,253.6 400.2,255.0 399.7,256.5 399.0,258.0 397.9,259.0 397.5,260.5 397.1,261.8 396.0,262.5 395.3,263.7 394.5,264.8 393.6,265.6 392.8,266.5 391.2,265.9 389.5,266.2 388.1,265.6 386.6,265.6 385.8,264.5 384.4,264.2 383.5,263.2 381.9,262.3 380.5,261.2 379.3,260.8 378.3,259.8 377.0,259.6 376.1,258.5 374.5,258.7 373.5,257.8 372.1,257.3 371.0,256.5 370.0,255.5 368.7,255.1 367.7,254.1 366.5,253.4 365.3,252.2 364.0,251.2 362.5,250.3 361.2,249.0 359.7,248.3 359.0,246.8 357.9,245.8 356.9,244.6 356.1,243.3 355.7,241.8 355.0,240.5 354.9,239.1 354.1,237.9 353.4,236.8 353.2,235.2 352.9,233.6 352.8,232.1 352.5,230.6 352.5,229.0 352.2,227.5 351.4,226.1 351.6,224.5 351.3,222.9 350.2,221.8 349.9,220.4 349.0,219.2 348.4,217.7 347.4,216.5 346.2,215.4 345.0,214.3 343.8,213.1 342.8,211.9 341.2,211.6 340.2,210.4 338.6,210.3 337.5,209.2 336.0,208.8 335.0,207.5 333.5,206.9 332.2,205.8 331.0,204.5 330.3,202.9 329.6,201.4 328.2,200.6 327.0,199.6 326.1,198.4 325.2,197.0 324.1,196.0 323.5,194.6 322.4,193.5 322.0,192.0 320.9,190.7 319.4,189.9 318.0,189.0 316.8,188.6 316.0,187.5 314.8,186.4 314.0,185.0 313.3,183.6 313.0,182.0 311.9,181.5 310.8,181.0 310.0,180.0 309.3,178.7 308.0,178.0 307.3,176.8 306.0,176.5 305.0,175.8 304.0,175.0 304.1,173.5 303.9,171.9 304.5,170.5 397.8,174.0" fill="#bd4449" stroke="none"/>
<polygon points="289.0,160.0 397.5,160.0 397.5,173.5 403.8,173.8 403.8,185.0 443.8,186.2 443.8,203.2 473.5,203.2 473.5,227.2 482.5,228.0 482.5,234.0 477.2,234.0 475.0,246.8 503.5,248.2 506.9,245.0 517.0,244.0 518.0,247.0 514.0,252.0 517.0,255.0 516.0,259.0 510.0,261.0 508.8,262.0 508.8,295.5 493.8,295.0 493.8,291.2 449.0,291.2 449.0,400.0 289.0,400.0" fill="#dc8886" stroke="#333" stroke-width="0.8" stroke-linejoin="round"/>
<polygon points="449.0,291.2 493.8,291.2 493.8,295.0 508.8,295.5 508.8,262.0 510.0,261.0 516.0,259.0 518.0,254.5 523.5,251.0 525.0,247.8 528.0,246.2 528.8,251.5 520.5,262.8 526.5,274.0 522.0,278.5 523.4,294.9 524.5,319.4 517.0,319.4 520.2,322.5 521.3,335.3 516.0,350.2 516.0,400.0 449.0,400.0" fill="#7fa6cb" stroke="#333" stroke-width="0.8" stroke-linejoin="round"/>
<polygon points="531.8,241.8 537.8,246.2 534.0,251.5 534.0,254.5 539.2,261.2 537.0,265.8 540.8,271.8 536.2,274.8 529.5,274.8 533.2,284.5 534.0,296.0 530.9,299.1 527.7,307.7 529.8,322.5 530.9,343.8 535.1,347.0 527.7,350.2 526.6,354.5 526.0,400.0 516.0,400.0 516.0,350.2 521.3,335.3 520.2,322.5 517.0,319.4 524.5,319.4 523.4,294.9 522.0,278.5 526.5,274.0 520.5,262.8 528.8,251.5 528.0,246.2" fill="#f1cbcc" stroke="#333" stroke-width="0.8" stroke-linejoin="round"/>
<polygon points="527.7,307.7 552.1,309.8 600.0,309.0 600.0,400.0 526.0,400.0 526.6,354.5 527.7,350.2 535.1,347.0 530.9,343.8 529.8,322.5" fill="#3b78ab" stroke="#333" stroke-width="0.8" stroke-linejoin="round"/>
<polygon points="534.0,222.2 537.4,221.4 541.8,225.0 540.0,229.2 537.5,232.0 535.6,234.5 533.0,238.0 531.2,241.2 529.5,242.0 532.0,235.5 532.0,232.8 533.0,228.4 532.0,225.0" fill="#3b78ab" stroke="#333" stroke-width="0.8" stroke-linejoin="round"/>
<polygon points="509.4,251.2 512.5,248.8 515.6,249.4 520.0,251.2 522.5,251.9 517.5,255.0 515.0,256.9 511.2,255.6 510.0,253.8" fill="#3b78ab" stroke="#333" stroke-width="0.8" stroke-linejoin="round"/>
<polygon points="552.0,154.0 555.0,151.5 558.0,148.0 560.0,145.0 562.0,143.5 563.0,146.5 562.0,149.0 565.0,152.5 564.0,157.5 552.5,158.0" fill="#3b78ab" stroke="#333" stroke-width="0.8" stroke-linejoin="round"/>
<polygon points="544.0,150.0 546.0,150.5 546.2,152.0 544.5,152.5" fill="#3b78ab" stroke="#333" stroke-width="0.8" stroke-linejoin="round"/>
<polygon points="545.0,153.5 547.5,154.0 547.0,156.0 545.0,156.5" fill="#3b78ab" stroke="#333" stroke-width="0.8" stroke-linejoin="round"/>
<polygon points="555.0,147.0 557.0,146.0 558.0,148.0 556.0,149.5" fill="#3b78ab" stroke="#333" stroke-width="0.8" stroke-linejoin="round"/>
<polygon points="595.0,233.8 600.0,232.5 601.0,249.0 596.2,251.2 593.8,247.5 590.0,248.1 589.4,243.8 593.8,240.6 594.4,236.2" fill="#3b78ab" stroke="#333" stroke-width="0.8" stroke-linejoin="round"/>
<polygon points="304.5,171.0 311.5,171.5 310.0,177.0 308.0,178.5 305.0,175.5 304.0,174.0" fill="#3b78ab" stroke="#333" stroke-width="0.8" stroke-linejoin="round"/>
<polygon points="310.0,177.5 315.5,177.0 317.0,181.5 315.0,183.5 313.0,181.5 310.5,178.5" fill="#3b78ab" stroke="#333" stroke-width="0.8" stroke-linejoin="round"/>
<polyline points="400.0,91.2 440.0,92.0 440.0,105.0 450.0,105.0 450.0,133.2 503.2,133.2" fill="none" stroke="#333" stroke-width="0.8" stroke-linejoin="round"/>
<polyline points="397.5,172.5 486.0,173.8 504.0,173.5 511.0,184.0 516.2,184.8 523.8,179.5 523.8,178.0 538.0,169.0 541.0,170.5 550.0,167.5 555.0,160.0" fill="none" stroke="#333" stroke-width="0.8" stroke-linejoin="round"/>
<polyline points="503.2,133.2 503.2,146.0 499.5,146.8 499.5,160.2 490.5,161.0 486.0,163.2 486.0,173.8" fill="none" stroke="#333" stroke-width="0.8" stroke-linejoin="round"/>
<polyline points="503.2,133.2 516.0,132.5 517.5,131.0 528.0,131.0 529.5,133.2 529.5,143.0 526.5,145.2 526.5,155.8 531.0,152.8 535.5,152.0 537.8,155.0 540.0,158.0 544.5,150.5" fill="none" stroke="#333" stroke-width="0.8" stroke-linejoin="round"/>
<polyline points="529.5,143.0 536.0,137.5 543.0,137.5 550.0,140.0" fill="none" stroke="#333" stroke-width="0.8" stroke-linejoin="round"/>
<polyline points="526.5,145.2 554.0,144.5 566.0,144.5" fill="none" stroke="#333" stroke-width="0.8" stroke-linejoin="round"/>
<polyline points="540.0,115.0 540.0,131.0 547.0,132.0 548.0,134.5 551.5,136.5 551.5,139.0 550.0,140.0 554.0,144.5" fill="none" stroke="#333" stroke-width="0.8" stroke-linejoin="round"/>
<polyline points="557.0,132.0 558.0,135.0 556.0,138.0 560.0,141.0 560.0,145.0" fill="none" stroke="#333" stroke-width="0.8" stroke-linejoin="round"/>
<polyline points="536.0,151.5 539.0,152.0 539.0,155.0 542.0,156.0 543.0,158.0" fill="none" stroke="#333" stroke-width="0.8" stroke-linejoin="round"/>
<polyline points="545.0,146.0 547.0,149.0 551.0,150.5 552.0,154.0" fill="none" stroke="#333" stroke-width="0.8" stroke-linejoin="round"/>
<polyline points="550.0,158.0 549.0,160.5" fill="none" stroke="#333" stroke-width="0.8" stroke-linejoin="round"/>
<polyline points="556.0,138.0 554.0,141.0 556.0,144.0" fill="none" stroke="#333" stroke-width="0.8" stroke-linejoin="round"/>
<polyline points="548.0,150.0 551.0,152.0 553.0,150.0 556.0,146.0" fill="none" stroke="#333" stroke-width="0.8" stroke-linejoin="round"/>
<polyline points="559.0,144.0 557.0,147.5 560.0,150.0 562.0,149.0" fill="none" stroke="#333" stroke-width="0.8" stroke-linejoin="round"/>
<polyline points="554.5,118.0 554.5,132.8 558.9,132.8 558.9,131.0 581.6,131.0 581.6,142.4 564.1,144.1" fill="none" stroke="#333" stroke-width="0.8" stroke-linejoin="round"/>
<polyline points="565.0,145.0 565.0,148.5 571.0,148.5 571.0,145.9 587.8,145.0 587.8,152.0 590.4,152.9 600.0,152.9" fill="none" stroke="#333" stroke-width="0.8" stroke-linejoin="round"/>
<polyline points="596.5,115.0 596.5,143.2 600.0,143.2" fill="none" stroke="#333" stroke-width="0.8" stroke-linejoin="round"/>
<polyline points="551.9,158.1 549.2,162.5 542.2,170.4 541.0,170.5" fill="none" stroke="#333" stroke-width="0.8" stroke-linejoin="round"/>
<polyline points="563.2,158.1 573.8,166.0 579.0,173.0 593.0,171.2 600.0,170.0" fill="none" stroke="#333" stroke-width="0.8" stroke-linejoin="round"/>
<polyline points="589.5,157.2 596.5,155.5 600.0,155.0" fill="none" stroke="#333" stroke-width="0.8" stroke-linejoin="round"/>
<polyline points="516.2,184.8 521.5,192.2 531.2,203.5 535.0,208.8 538.0,205.0 537.2,202.0 531.2,203.5" fill="none" stroke="#333" stroke-width="0.8" stroke-linejoin="round"/>
<polyline points="531.2,203.5 517.0,205.0 517.8,211.0 518.5,219.2 520.0,222.5 495.2,222.0 494.5,227.2 473.5,227.2" fill="none" stroke="#333" stroke-width="0.8" stroke-linejoin="round"/>
<polyline points="546.2,180.0 547.0,182.2 539.5,186.8 545.5,196.5 550.0,198.8 553.0,206.2 548.5,210.0 547.8,215.2 544.0,219.0 541.0,220.5" fill="none" stroke="#333" stroke-width="0.8" stroke-linejoin="round"/>
<polyline points="554.5,180.0 556.8,183.0 565.0,180.8 574.8,191.2 583.8,186.8 587.5,184.5 588.2,187.5 600.0,184.5" fill="none" stroke="#333" stroke-width="0.8" stroke-linejoin="round"/>
<polyline points="539.0,170.0 542.4,174.5 547.0,182.2" fill="none" stroke="#333" stroke-width="0.8" stroke-linejoin="round"/>
<polyline points="577.2,170.0 578.4,173.4 590.8,172.2 600.0,171.0" fill="none" stroke="#333" stroke-width="0.8" stroke-linejoin="round"/>
<polyline points="544.0,222.8 565.0,213.0 567.2,216.0 572.5,215.2 571.0,209.2 575.5,204.8 580.0,201.8 587.5,202.5 591.2,205.5 595.0,203.2 596.5,207.8 600.0,209.0" fill="none" stroke="#333" stroke-width="0.8" stroke-linejoin="round"/>
<polyline points="600.0,210.0 595.0,211.5 586.0,214.5 585.2,229.5 583.0,230.0 586.8,236.2 587.5,239.2" fill="none" stroke="#333" stroke-width="0.8" stroke-linejoin="round"/>
<polyline points="583.0,229.5 586.8,228.8 586.0,225.0" fill="none" stroke="#333" stroke-width="0.8" stroke-linejoin="round"/>
<polyline points="541.8,229.5 545.5,231.8 550.0,234.8 547.0,242.2 553.0,246.8 559.0,247.5 566.5,256.5 575.5,265.5 575.5,285.0" fill="none" stroke="#333" stroke-width="0.8" stroke-linejoin="round"/>
<polyline points="566.5,256.5 572.5,254.2 575.5,249.0 580.0,244.5 584.5,242.2 589.0,240.0" fill="none" stroke="#333" stroke-width="0.8" stroke-linejoin="round"/>
<polyline points="586.8,255.8 586.0,259.5 590.0,263.0 595.8,270.0" fill="none" stroke="#333" stroke-width="0.8" stroke-linejoin="round"/>
<polyline points="586.8,255.8 595.0,254.2 600.0,253.5" fill="none" stroke="#333" stroke-width="0.8" stroke-linejoin="round"/>
<polyline points="586.8,231.0 590.4,231.0 592.2,227.4 596.7,225.6 600.0,226.0" fill="none" stroke="#333" stroke-width="0.8" stroke-linejoin="round"/>
<polyline points="588.6,231.0 594.0,232.4 596.0,236.0" fill="none" stroke="#333" stroke-width="0.8" stroke-linejoin="round"/>
<polyline points="587.7,240.0 595.4,241.4 598.0,244.0" fill="none" stroke="#333" stroke-width="0.8" stroke-linejoin="round"/>
<polyline points="590.4,231.0 592.0,236.0 591.0,240.0" fill="none" stroke="#333" stroke-width="0.8" stroke-linejoin="round"/>
<polyline points="535.0,202.5 537.2,203.2 538.0,207.8 535.0,208.5" fill="none" stroke="#333" stroke-width="0.8" stroke-linejoin="round"/>
<polyline points="526.2,218.8 525.0,222.5 527.5,227.5 531.9,226.9" fill="none" stroke="#333" stroke-width="0.8" stroke-linejoin="round"/>
<polyline points="522.5,251.9 530.0,241.9" fill="none" stroke="#333" stroke-width="0.8" stroke-linejoin="round"/>
<polyline points="526.2,218.8 530.4,217.0 532.0,219.6 534.0,222.2" fill="none" stroke="#333" stroke-width="0.8" stroke-linejoin="round"/>
<polyline points="540.5,220.5 543.5,222.5" fill="none" stroke="#333" stroke-width="0.8" stroke-linejoin="round"/>
<polyline points="537.5,247.5 541.2,245.0 547.5,242.5" fill="none" stroke="#333" stroke-width="0.8" stroke-linejoin="round"/>
</g>
<polygon points="401.5,37.5 477.0,38.5 476.5,97.5 479.5,99.0 481.0,100.5 484.0,102.0 487.0,103.5 490.0,102.0 493.0,102.6 496.0,105.0 497.5,108.0 500.0,108.5 502.0,109.5 504.0,109.8 506.5,111.0 509.0,111.5 511.0,112.5 513.0,111.5 515.5,111.0 517.5,112.8 520.0,113.4 522.0,111.8 524.5,111.6 526.0,115.5 527.5,116.0 529.0,117.0 531.0,115.0 532.0,115.5 533.5,118.5 535.0,116.5 536.5,115.5 538.0,117.5 539.5,118.5 541.0,117.2 542.5,117.0 544.0,120.0 546.0,118.0 548.5,117.0 550.0,119.5 551.5,121.5 552.2,118.0 553.0,115.5 554.5,116.0 556.0,117.0 557.5,118.8 559.0,118.5 560.5,117.8 562.0,118.5 563.5,120.2 565.0,120.0 567.0,119.2 569.5,120.0 571.0,119.8 572.5,118.5 575.0,117.5 577.0,117.0 579.0,118.2 581.5,117.6 584.0,116.8 586.0,115.5 587.5,115.2 589.0,114.0 591.0,115.5 593.5,114.6 596.0,114.2 598.0,113.4 599.5,114.2 601.0,115.5 603.0,116.5 605.5,117.6 607.5,118.2 610.0,120.0 612.0,120.5 614.5,121.5 617.0,122.8 619.0,123.0 621.0,123.8 623.5,124.5 626.0,124.2 628.4,124.5 629.5,150.0 630.4,160.0 630.4,170.0 632.0,172.5 633.8,174.6 635.5,176.5 637.1,178.0 637.1,183.6 639.5,186.0 641.6,188.1 643.5,192.0 645.0,196.0 645.0,201.6 643.9,206.1 645.0,211.8 642.8,217.4 641.6,223.0 641.0,228.0 640.5,232.0 638.5,235.5 636.5,238.5 639.4,242.5 636.0,244.8 633.0,244.0 628.0,246.0 623.0,249.0 620.0,252.0 620.0,254.0 617.0,256.0 612.0,259.0 608.0,262.0 606.0,265.0 602.0,268.0 599.0,270.0 594.0,273.0 587.0,277.0 582.0,280.0 577.0,283.5 574.5,286.5 569.0,290.0 564.0,294.0 560.0,298.0 558.5,301.0 557.0,305.0 554.6,308.8 552.0,314.0 550.2,322.8 551.1,330.6 553.8,340.2 556.4,352.5 556.4,357.8 550.2,360.4 548.5,362.0 543.2,359.5 541.8,359.2 540.3,358.8 539.1,357.8 537.5,357.9 536.2,356.9 534.5,356.5 532.7,356.3 530.9,356.2 529.3,355.4 527.5,355.0 525.9,355.0 524.7,354.1 523.1,353.9 521.7,353.4 520.5,352.5 519.0,352.1 517.6,351.1 515.9,351.3 514.5,350.4 513.2,350.2 512.2,349.3 511.0,349.0 510.1,347.9 508.7,347.5 507.5,346.9 506.3,346.6 505.3,345.7 504.0,345.8 502.4,345.5 501.4,344.2 501.1,342.8 499.9,341.9 499.5,340.5 498.6,339.6 498.1,338.5 497.9,337.2 497.3,336.0 497.3,334.5 496.2,333.4 496.1,332.0 495.5,330.8 494.8,329.6 494.0,328.5 493.1,327.4 492.5,326.1 491.8,325.0 491.0,323.8 490.6,322.4 490.8,321.0 490.1,319.6 490.0,318.0 490.3,316.3 490.2,314.5 490.0,312.8 490.0,311.0 489.0,310.2 488.2,309.2 487.4,308.3 486.5,307.5 485.2,306.7 484.0,305.8 482.5,305.1 481.2,304.0 480.6,302.7 479.5,301.8 478.8,300.6 477.8,299.6 476.6,298.2 476.0,296.5 475.2,295.0 474.2,293.5 473.1,292.6 472.2,291.4 470.8,290.9 470.1,289.6 469.0,288.6 468.4,287.1 468.2,285.5 468.2,283.8 467.2,282.5 466.2,281.2 466.0,279.5 465.2,278.0 464.6,276.4 464.2,275.2 463.1,274.5 462.8,273.2 461.9,271.7 461.1,270.2 460.2,269.0 460.2,267.5 460.0,266.2 459.4,265.0 458.9,263.8 458.0,262.8 457.2,261.8 456.8,260.6 455.6,260.0 455.0,258.9 454.1,257.6 452.8,256.5 451.8,255.4 450.6,254.5 449.6,253.6 448.5,252.8 447.3,251.9 446.2,251.0 445.6,250.1 444.5,249.8 443.9,248.7 442.8,248.4 441.9,247.0 441.2,245.5 440.8,244.6 440.1,244.0 438.9,243.9 438.2,242.9 436.6,242.6 435.5,242.7 434.5,243.2 433.4,243.0 432.2,243.1 431.0,242.3 429.5,242.5 428.3,242.0 427.0,242.2 425.8,242.7 424.5,242.6 423.1,242.5 421.8,242.2 420.0,241.9 419.2,241.5 418.2,241.4 417.0,240.2 415.6,239.6 415.2,240.6 414.2,240.8 413.0,241.4 412.0,241.5 411.0,241.6 409.5,242.2 407.8,242.5 407.0,243.1 406.0,243.1 405.7,244.4 404.6,245.2 404.4,246.6 403.4,247.5 402.7,248.5 402.5,249.8 402.4,251.0 401.6,251.9 401.2,253.6 400.2,255.0 399.7,256.5 399.0,258.0 397.9,259.0 397.5,260.5 397.1,261.8 396.0,262.5 395.3,263.7 394.5,264.8 393.6,265.6 392.8,266.5 391.2,265.9 389.5,266.2 388.1,265.6 386.6,265.6 385.8,264.5 384.4,264.2 383.5,263.2 381.9,262.3 380.5,261.2 379.3,260.8 378.3,259.8 377.0,259.6 376.1,258.5 374.5,258.7 373.5,257.8 372.1,257.3 371.0,256.5 370.0,255.5 368.7,255.1 367.7,254.1 366.5,253.4 365.3,252.2 364.0,251.2 362.5,250.3 361.2,249.0 359.7,248.3 359.0,246.8 357.9,245.8 356.9,244.6 356.1,243.3 355.7,241.8 355.0,240.5 354.9,239.1 354.1,237.9 353.4,236.8 353.2,235.2 352.9,233.6 352.8,232.1 352.5,230.6 352.5,229.0 352.2,227.5 351.4,226.1 351.6,224.5 351.3,222.9 350.2,221.8 349.9,220.4 349.0,219.2 348.4,217.7 347.4,216.5 346.2,215.4 345.0,214.3 343.8,213.1 342.8,211.9 341.2,211.6 340.2,210.4 338.6,210.3 337.5,209.2 336.0,208.8 335.0,207.5 333.5,206.9 332.2,205.8 331.0,204.5 330.3,202.9 329.6,201.4 328.2,200.6 327.0,199.6 326.1,198.4 325.2,197.0 324.1,196.0 323.5,194.6 322.4,193.5 322.0,192.0 320.9,190.7 319.4,189.9 318.0,189.0 316.8,188.6 316.0,187.5 314.8,186.4 314.0,185.0 313.3,183.6 313.0,182.0 311.9,181.5 310.8,181.0 310.0,180.0 309.3,178.7 308.0,178.0 307.3,176.8 306.0,176.5 305.0,175.8 304.0,175.0 304.1,173.5 303.9,171.9 304.5,170.5 397.8,174.0" fill="none" stroke="#333" stroke-width="1.1" stroke-linejoin="round"/>
<g style='font-family:"Liberation Sans",sans-serif' font-weight="bold" fill="#121212" stroke="#121212" stroke-width="0.35" font-size="19.5">
<text x="139" y="63.8" textLength="122.5" lengthAdjust="spacingAndGlyphs">Current Texas</text>
<text x="139" y="87.7" textLength="201.5" lengthAdjust="spacingAndGlyphs">congressional districts</text>
<text x="487" y="63.5" textLength="162" lengthAdjust="spacingAndGlyphs">Proposed districts</text>
<text x="487" y="87.3" textLength="131.5" lengthAdjust="spacingAndGlyphs">for this decade</text>
</g>
<g style='font-family:"Liberation Sans",sans-serif' fill="#333">
<text x="273" y="298.8" font-size="16" textLength="140.5" lengthAdjust="spacingAndGlyphs">2020 PRESIDENTIAL</text>
<text x="294.5" y="317.5" font-size="16" textLength="97.5" lengthAdjust="spacingAndGlyphs">VOTE MARGIN</text>
<text x="237" y="336.8" font-size="16.2" textLength="41.5" lengthAdjust="spacingAndGlyphs">Biden</text>
<text x="236.5" y="356.8" font-size="16.2" textLength="45.5" lengthAdjust="spacingAndGlyphs">Trump</text>
<text x="312.5" y="375.6" font-size="16.8" textLength="18.5" lengthAdjust="spacingAndGlyphs">+5</text>
<text x="344" y="375.6" font-size="16.8" textLength="27.5" lengthAdjust="spacingAndGlyphs">+10</text>
</g>
<g>
<rect x="286" y="323.6" width="37.4" height="16.8" fill="#c2d6ea"/>
<rect x="324.6" y="323.6" width="37.4" height="16.8" fill="#7fa6cb"/>
<rect x="363" y="323.6" width="37.4" height="16.8" fill="#3b78ab"/>
<rect x="286" y="343" width="37.4" height="16.4" fill="#f0c6c7"/>
<rect x="324.6" y="343" width="37.4" height="16.4" fill="#db8583"/>
<rect x="363" y="343" width="37.4" height="16.4" fill="#bd4449"/>
</g>
</svg>
</body></html>
